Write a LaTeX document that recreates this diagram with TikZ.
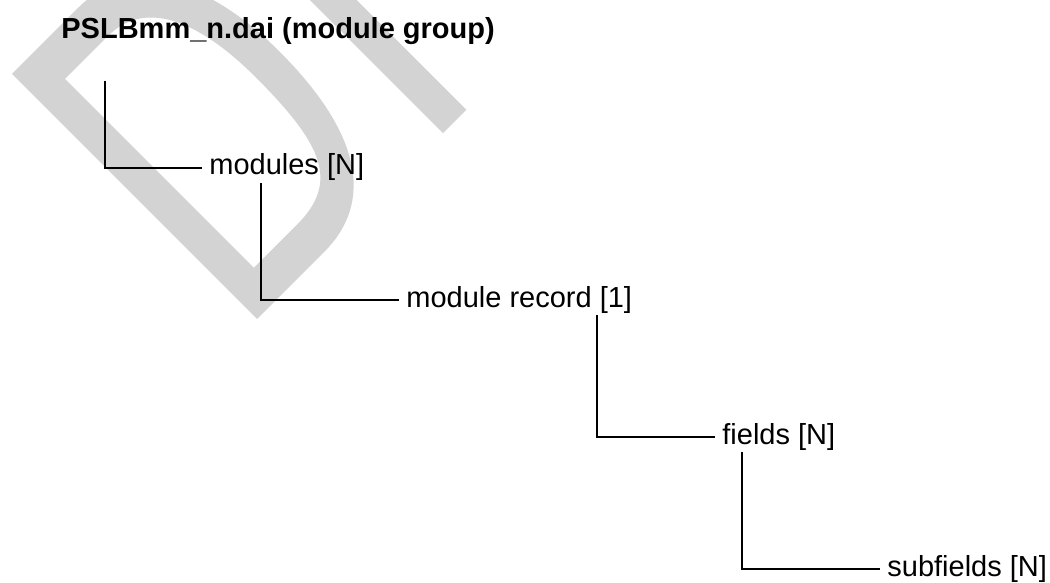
\documentclass[tikz,border=0pt]{standalone}
\usepackage{fontspec}
\setmainfont{Liberation Sans}
\usepackage{xcolor}
\usetikzlibrary{calc}
\definecolor{wmgrey}{RGB}{211, 211, 211}
\tikzset{
  entry/.style={anchor=base west,inner xsep=3.5pt,inner ysep=1pt,font=\fontsize{14.5}{17}\selectfont},
  branch/.style={line width=1pt}
}
\begin{document}
\begin{tikzpicture}[x=0.5pt,y=-0.5pt]
\useasboundingbox (0,0) rectangle (1050,583);
% watermark
\begin{scope}
  \clip (0,0) rectangle (1050,583);
  \begin{scope}[shift={(6pt,-37pt)},x={(0.3536pt,0.3536pt)},y={(0.3536pt,-0.3536pt)}]
    \fill[wmgrey,even odd rule] (0,0) -- (95,0) .. controls (155,0) and (205,55) .. (205,173)
      .. controls (205,290) and (165,346.5) .. (95,346.5) -- (0,346.5) -- cycle
      (34,41) -- (95,41) .. controls (145,41) and (170,90) .. (170,175)
      .. controls (170,270) and (155,308) .. (95,308) -- (34,308) -- cycle;
    \fill[wmgrey] (263,0) -- (296,0) -- (296,346.5) -- (263,346.5) -- cycle;
  \end{scope}
\end{scope}
% tree
\node[entry,font=\fontsize{14.5}{17}\selectfont\bfseries](grp) at (54,38.5){PSLBmm\_n.dai (module group)};
\node[entry](mods) at (202,175){modules [N]};
\node[entry](rec) at (399,307){module record [1]};
\node[entry](flds) at (715,444){fields [N]};
\node[entry](subf) at (880,576){subfields [N]};
\draw[branch]([xshift=25.5pt,yshift=-16.75pt]grp.south west) |- (mods.west);
\draw[branch]([xshift=29.5pt]mods.south west) |- (rec.west);
\draw[branch]([xshift=99pt]rec.south west) |- (flds.west);
\draw[branch]([xshift=13.5pt]flds.south west) |- (subf.west);
\end{tikzpicture}
\end{document}
